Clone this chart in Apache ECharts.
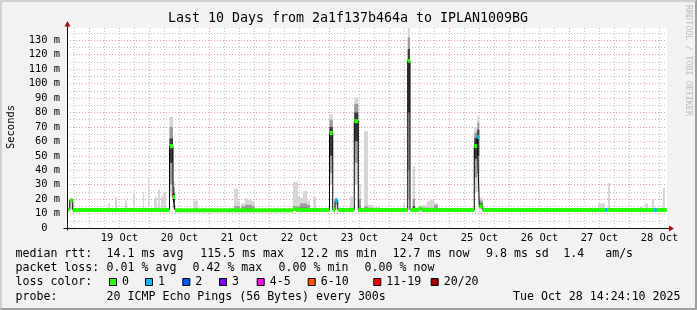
<!DOCTYPE html>
<html>
<head>
<meta charset="utf-8">
<script src="https://cdn.jsdelivr.net/npm/echarts@6/dist/echarts.min.js"></script>
<style>
html, body { margin: 0; padding: 0; background: #f2f2f2; }
#chart { width: 697px; height: 310px; }
</style>
</head>
<body>
<div id="chart"></div>
<script>
// time is in hours since 18 Oct 00:00
var startHour = 15;
var endHour = 255;
var dayLabels = ['19 Oct', '20 Oct', '21 Oct', '22 Oct', '23 Oct', '24 Oct', '25 Oct', '26 Oct', '27 Oct', '28 Oct'];

// median rtt steps: from, to, ms, lost pings
var medianSteps = [
    [15, 16.1, 12.8, 0],
    [16.1, 17.3, 19, 0],
    [17.3, 56, 12.5, 0],
    [56, 57.4, 56.7, 0],
    [57.4, 58.2, 21.5, 0],
    [58.2, 105.4, 12.3, 0],
    [105.4, 106.6, 13.4, 0],
    [106.6, 120, 12.5, 0],
    [120, 121.3, 65.8, 0],
    [121.3, 122.2, 12.5, 0],
    [122.2, 123.3, 19, 1],
    [123.3, 129.9, 12.5, 0],
    [129.9, 131.5, 74, 0],
    [131.5, 151.3, 12.5, 0],
    [151.3, 152.2, 115.7, 0],
    [152.2, 155.8, 12.5, 0],
    [155.8, 156.8, 13.6, 0],
    [156.8, 177.9, 12.5, 0],
    [177.9, 179.1, 56.7, 0],
    [179.1, 179.9, 63, 1],
    [179.9, 181.3, 15, 0],
    [181.3, 230.2, 12.5, 0],
    [230.2, 231.3, 12.5, 1],
    [231.3, 249.8, 12.5, 0],
    [249.8, 250.9, 12.5, 1],
    [250.9, 255, 12.5, 0]
];

// smoke: from, to, min, p10, p25, p75, p90, max (ms)
var smoke = [
    [16.1, 17.3, 12.5, 18, 18.5, 19.5, 20, 21],
    [31.4, 32.2, 12, 12.2, 12.4, 13, 13.6, 17],
    [34.2, 35, 12, 12.2, 12.4, 13, 13.6, 21.7],
    [38.2, 39, 12, 12.2, 12.4, 13, 13.6, 19],
    [41.4, 42.2, 12, 12.2, 12.4, 13, 13.6, 23.3],
    [45.4, 45.8, 12, 12.2, 12.4, 13, 13.6, 24.7],
    [47.4, 47.8, 12, 12.2, 12.4, 13, 13.6, 35],
    [49.8, 51, 12, 12.2, 12.4, 13, 13.6, 21],
    [51.4, 52.2, 12, 12.2, 12.4, 13, 13.6, 26.6],
    [52.6, 53.4, 12, 12.2, 12.4, 13, 13.6, 21.8],
    [53.4, 54.6, 12, 12.2, 12.4, 13, 13.6, 25],
    [56, 57.4, 22, 30, 45, 62, 70, 77],
    [57.4, 58.2, 13, 14, 18, 24, 28, 32],
    [65.4, 67.4, 12, 12.2, 12.4, 13, 13.6, 19],
    [81.8, 83.4, 12, 12.2, 12.4, 13, 15, 27.3],
    [83.4, 84.2, 12, 12.2, 12.4, 13, 15, 19],
    [84.6, 86.2, 12, 12.2, 12.4, 13, 15, 17],
    [86.2, 87.4, 12, 12.2, 12.4, 13.5, 16, 20.5],
    [87.4, 89, 12, 12.2, 12.4, 13.5, 16, 19.5],
    [89, 90.2, 12, 12.2, 12.4, 13, 15, 18.5],
    [105.4, 107.4, 12, 12.2, 12.4, 13, 15, 32],
    [107.4, 108.2, 12, 12.2, 12.4, 13, 15, 22],
    [108.2, 109.4, 12, 12.2, 12.4, 14, 17, 21],
    [109.4, 111, 12, 12.2, 12.4, 14, 17, 25.5],
    [111, 112.2, 12, 12.2, 12.4, 13.5, 16, 19],
    [113.4, 114.6, 12, 12.2, 12.4, 13, 13.6, 21.8],
    [120, 121.3, 30, 38, 50, 70, 75, 78.7],
    [122.2, 123.3, 13, 16, 18, 19.5, 20, 21],
    [128.2, 129.4, 12, 12.2, 12.4, 13, 13.6, 21.7],
    [129.9, 131.5, 30, 45, 60, 80, 86, 90.3],
    [131.4, 132.6, 12, 12.2, 12.4, 14, 20, 30],
    [133.8, 135.4, 12, 12.2, 12.4, 13, 15, 67],
    [135.4, 137.4, 12, 12.2, 12.4, 13, 14, 16],
    [137.4, 140.2, 12, 12.2, 12.4, 13, 13.6, 14.5],
    [149.4, 150.2, 12, 12.2, 12.4, 13, 13.6, 17],
    [151.3, 152.2, 20, 40, 80, 124, 132, 138.5],
    [153.3, 154.2, 12, 12.2, 12.4, 15, 20, 42.8],
    [155, 157, 12, 12.2, 12.4, 13, 13.6, 14.6],
    [157, 159, 12, 12.2, 12.4, 13, 14, 15.7],
    [159, 160.2, 12, 12.2, 12.4, 13, 14, 18.5],
    [160.2, 161.8, 12, 12.2, 12.4, 13, 14, 19.5],
    [161.8, 163.4, 12, 12.2, 12.4, 13.5, 16, 17],
    [177.9, 179.1, 25, 35, 48, 62, 66, 69.6],
    [179.1, 179.9, 25, 38, 50, 68, 73, 77.5],
    [179.9, 181.3, 13, 13.5, 14, 17, 19, 21],
    [227.4, 230.2, 12, 12.2, 12.4, 13, 13.6, 17],
    [231.4, 232.2, 12, 12.2, 12.4, 13, 13.6, 31.2],
    [244.2, 245.4, 12, 12.2, 12.4, 13, 13.6, 14.7],
    [246.2, 247.4, 12, 12.2, 12.4, 13, 13.6, 17],
    [248.9, 249.8, 12, 12.2, 12.4, 13, 13.6, 20],
    [253.3, 254.2, 12, 12.2, 12.4, 13, 13.6, 27.8]
];

var lossLabels = ['0', '1', '2', '3', '4-5', '6-10', '11-19', '20/20'];
var lossColors = ['#26ff00', '#00b8ff', '#0059ff', '#7e00ff', '#ff00ff', '#ff5500', '#ff0000', '#a10000'];

var rttStats = ['14.1 ms avg', '115.5 ms max', '12.2 ms min', '12.7 ms now', '9.8 ms sd', '1.4   am/s'];
var lossStats = ['0.01 % avg', '0.42 % max', '0.00 % min', '0.00 % now'];
var probeText = '20 ICMP Echo Pings (56 Bytes) every 300s';
var stampText = 'Tue Oct 28 14:24:10 2025';
var titleText = 'Last 10 Days from 2a1f137b464a to IPLAN1009BG';

var MONO = '"DejaVu Sans Mono", monospace';
var minorGrid = 'rgba(143,143,143,0.55)';
var majorGrid = 'rgba(222,94,94,0.6)';
var none = 'rgba(0,0,0,0)';

// black step line through the medians
var medianLine = [];
for (var i = 0; i < medianSteps.length; i++) {
    medianLine.push([medianSteps[i][0], medianSteps[i][2]]);
    medianLine.push([medianSteps[i][1], medianSteps[i][2]]);
}

var chart = echarts.init(document.getElementById('chart'));

function txt(str, x, y, size, align, extra) {
    var el = {
        type: 'text', x: x, y: y, silent: true,
        style: {
            text: str, fill: '#000', fontFamily: MONO, fontSize: size,
            align: align || 'left', verticalAlign: 'middle'
        }
    };
    if (extra) { for (var k in extra) el[k] = extra[k]; }
    return el;
}

var option = {
    animation: false,
    backgroundColor: '#f2f2f2',
    grid: {
        left: 67, top: 28, width: 600, height: 200,
        show: true, backgroundColor: '#ffffff', borderWidth: 0,
        containLabel: false, outerBoundsMode: 'none'
    },
    xAxis: {
        type: 'value', min: startHour, max: endHour, interval: 3,
        axisLine: { show: false }, axisTick: { show: false },
        axisLabel: {
            margin: 5, color: '#000', fontFamily: MONO, fontSize: 10.4,
            formatter: function (v) {
                var k = (v - 36) / 24;
                if (k >= 0 && Math.abs(k - Math.round(k)) < 1e-6) return dayLabels[Math.round(k)] || '';
                return '';
            }
        },
        splitLine: {
            show: true,
            lineStyle: { color: [none, minorGrid, none, majorGrid, none, minorGrid, none, minorGrid], type: [1, 2], width: 1 }
        }
    },
    yAxis: {
        type: 'value', min: 0, max: 138.5, interval: 5,
        axisLine: { show: false }, axisTick: { show: false },
        axisLabel: {
            margin: 7, color: '#000', fontFamily: MONO, fontSize: 10.4,
            formatter: function (v) {
                if (v === 0) return '0  ';
                if (v > 135 || Math.round(v) % 10 !== 0) return '';
                return Math.round(v) + ' m';
            }
        },
        splitLine: {
            show: true, showMaxLine: false,
            lineStyle: { color: [majorGrid, minorGrid], type: [1, 2], width: 1 }
        }
    },
    series: [
        {
            type: 'custom', z: 1, clip: true, silent: true,
            data: smoke,
            encode: { x: [0, 1], y: [2, 3, 4, 5, 6, 7] },
            renderItem: function (params, api) {
                var t0 = api.value(0), t1 = api.value(1);
                var bands = [[2, 7, '#d6d6d6'], [3, 6, '#9c9c9c'], [4, 5, '#3a3a3a']];
                var children = [];
                for (var b = 0; b < bands.length; b++) {
                    var lo = api.value(bands[b][0]), hi = api.value(bands[b][1]);
                    if (hi <= lo) continue;
                    var p0 = api.coord([t0, hi]), p1 = api.coord([t1, lo]);
                    children.push({
                        type: 'rect',
                        shape: { x: p0[0], y: p0[1], width: p1[0] - p0[0], height: p1[1] - p0[1] },
                        style: { fill: bands[b][2] }
                    });
                }
                return { type: 'group', children: children };
            }
        },
        {
            type: 'line', z: 2, silent: true, symbol: 'none',
            data: medianLine,
            lineStyle: { color: '#000', width: 1 }
        },
        {
            type: 'custom', z: 3, clip: true, silent: true,
            data: medianSteps,
            encode: { x: [0, 1], y: 2 },
            renderItem: function (params, api) {
                var p0 = api.coord([api.value(0), api.value(2)]);
                var p1 = api.coord([api.value(1), api.value(2)]);
                return {
                    type: 'rect',
                    shape: { x: p0[0], y: p0[1] - 2, width: p1[0] - p0[0], height: 4 },
                    style: { fill: lossColors[api.value(3)] }
                };
            }
        }
    ]
};
chart.setOption(option);

// frame, axes, arrows and legend texts placed from the grid's pixel box
var o = chart.convertToPixel({ gridIndex: 0 }, [startHour, 0]);
var e = chart.convertToPixel({ gridIndex: 0 }, [endHour, 138.5]);
var ax = Math.round(o[0]) + 0.5, ay = Math.round(o[1]) + 0.5;
var rx = Math.round(e[0]), ty = Math.round(e[1]);
var W = 697, H = 310;

var g = [];
// 3D frame
g.push({ type: 'polyline', silent: true, shape: { points: [[0.5, H - 1], [0.5, 0.5], [W - 1, 0.5]] }, style: { stroke: '#cfcfcf', lineWidth: 1, fill: null } });
g.push({ type: 'polyline', silent: true, shape: { points: [[1.5, H - 2], [1.5, 1.5], [W - 2, 1.5]] }, style: { stroke: '#cfcfcf', lineWidth: 1, fill: null } });
g.push({ type: 'polyline', silent: true, shape: { points: [[0, H - 0.5], [W - 0.5, H - 0.5], [W - 0.5, 0]] }, style: { stroke: '#9e9e9e', lineWidth: 1, fill: null } });
g.push({ type: 'polyline', silent: true, shape: { points: [[1, H - 1.5], [W - 1.5, H - 1.5], [W - 1.5, 1]] }, style: { stroke: '#9e9e9e', lineWidth: 1, fill: null } });

// axes
g.push({ type: 'line', silent: true, z: 10, shape: { x1: ax - 4, y1: ay, x2: rx + 3, y2: ay }, style: { stroke: '#101010', lineWidth: 1 } });
g.push({ type: 'line', silent: true, z: 10, shape: { x1: ax, y1: ay + 2, x2: ax, y2: ty - 2 }, style: { stroke: '#101010', lineWidth: 1 } });
g.push({ type: 'polygon', silent: true, z: 11, shape: { points: [[rx + 2, ay - 3], [rx + 7, ay], [rx + 2, ay + 3]] }, style: { fill: '#a01010' } });
g.push({ type: 'polygon', silent: true, z: 11, shape: { points: [[ax - 3, ty - 1.5], [ax, ty - 7], [ax + 3, ty - 1.5]] }, style: { fill: '#a01010' } });

// title, axis name, watermark
g.push(txt(titleText, 348, 19, 13.3, 'center'));
g.push(txt('Seconds', 11, 127, 10.4, 'center', { rotation: Math.PI / 2 }));
g.push({
    type: 'text', x: 688, y: 5, silent: true, rotation: -Math.PI / 2,
    style: { text: 'RRDTOOL / TOBI OETIKER', fill: '#bdbdbd', fontFamily: MONO, fontSize: 8.4, align: 'left', verticalAlign: 'middle' }
});

// legend rows
var FS = 11.6;
var rttX = [106.6, 200.3, 300.3, 392.6, 486, 563.3];
var lossX = [106.6, 192.5, 278.6, 364.6];
var boxX = [109, 145, 182.3, 219, 256.7, 307.7, 373.3, 430.7];
g.push(txt('median rtt:', 15.5, 254, FS));
for (var a = 0; a < rttStats.length; a++) g.push(txt(rttStats[a], rttX[a], 254, FS));
g.push(txt('packet loss:', 15.5, 268, FS));
for (var b2 = 0; b2 < lossStats.length; b2++) g.push(txt(lossStats[b2], lossX[b2], 268, FS));
g.push(txt('loss color:', 15.5, 282, FS));
for (var c = 0; c < lossLabels.length; c++) {
    g.push({ type: 'rect', silent: true, shape: { x: boxX[c] + 0.5, y: 278.5, width: 7, height: 7 }, style: { fill: lossColors[c], stroke: '#000', lineWidth: 1 } });
    g.push(txt(lossLabels[c], boxX[c] + 13, 282, FS));
}
g.push(txt('probe:', 15.5, 296.5, FS));
g.push(txt(probeText, 106.6, 296.5, FS));
g.push(txt(stampText, 680.5, 296.5, FS, 'right'));

chart.setOption({ graphic: g });
</script>
</body>
</html>
